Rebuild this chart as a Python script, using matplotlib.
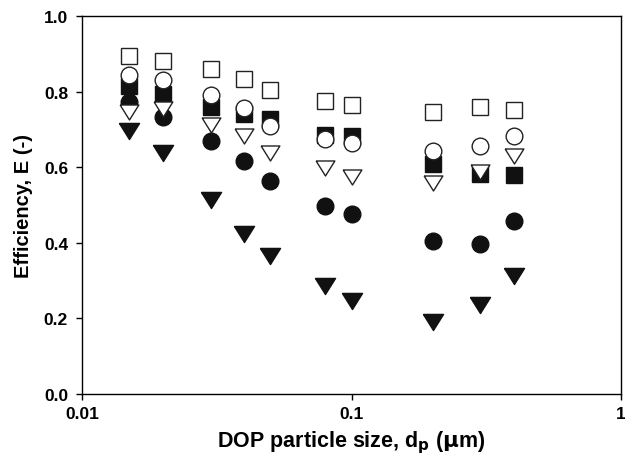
import matplotlib
matplotlib.use("Agg")
import matplotlib.pyplot as plt

plt.rcParams['font.family'] = ['Liberation Sans', 'DejaVu Sans']
plt.rcParams['font.weight'] = 'bold'
plt.rcParams['mathtext.default'] = 'bf'

# particle sizes (um)
dp = [0.015, 0.02, 0.03, 0.04, 0.05, 0.08, 0.1, 0.2, 0.3, 0.4]

# efficiencies for each series
open_square = [0.893, 0.882, 0.860, 0.833, 0.804, 0.776, 0.765, 0.747, 0.758, 0.750]
open_circle = [0.844, 0.831, 0.792, 0.756, 0.710, 0.675, 0.663, 0.644, 0.657, 0.683]
filled_square = [0.814, 0.794, 0.758, 0.741, 0.728, 0.685, 0.683, 0.608, 0.582, 0.580]
open_tri = [0.745, 0.754, 0.712, 0.682, 0.638, 0.597, 0.573, 0.557, 0.586, 0.630]
filled_circle = [0.773, 0.732, 0.670, 0.617, 0.564, 0.497, 0.476, 0.406, 0.397, 0.457]
filled_tri = [0.697, 0.638, 0.513, 0.423, 0.366, 0.285, 0.247, 0.190, 0.235, 0.311]

# slightly wide down-triangle like the original
tri = [(-1, 0.8), (1, 0.8), (0, -0.8), (-1, 0.8)]

fig = plt.figure(figsize=(6.25, 4.56), dpi=100)
ax = fig.add_axes([0.1312, 0.1338, 0.8624, 0.829])

k = '#111111'
ax.plot(dp, filled_square, 's', ms=11.5, color=k, mec=k, zorder=2)
ax.plot(dp, filled_circle, 'o', ms=12, color=k, mec=k, zorder=3)
ax.plot(dp, filled_tri, marker=tri, ls='none', ms=14.5, color=k, mec=k, zorder=3)
ax.plot(dp, open_tri, marker=tri, ls='none', ms=13.5, mfc='white', mec='#222222', mew=1.0, zorder=4)
ax.plot(dp, open_circle, 'o', ms=12, mfc='white', mec='#222222', mew=1.0, zorder=5)
ax.plot(dp, open_square, 's', ms=11.5, mfc='white', mec='#222222', mew=1.0, zorder=5)

ax.set_xscale('log')
ax.set_xlim(0.01, 1)
ax.set_ylim(0, 1.0)
ax.set_xticks([0.01, 0.1, 1])
ax.set_xticklabels(['0.01', '0.1', '1'])
ax.set_yticks([0.0, 0.2, 0.4, 0.6, 0.8, 1.0])
ax.set_yticklabels(['0.0', '0.2', '0.4', '0.6', '0.8', '1.0'])
ax.minorticks_off()
ax.tick_params(direction='out', length=4, width=1, labelsize=12.5)
ax.tick_params(axis='y', pad=6)
ax.tick_params(axis='x', pad=5)
for s in ax.spines.values():
    s.set_linewidth(1)

ax.set_xlabel(r'DOP particle size, d$_\mathbf{p}$ ($\mathbf{\mu}$m)', fontsize=15.5, fontweight='bold', labelpad=5)
ax.set_ylabel('Efficiency, E (-)', fontsize=14.5, fontweight='bold', labelpad=8)

fig.savefig('out.png', dpi=100)
